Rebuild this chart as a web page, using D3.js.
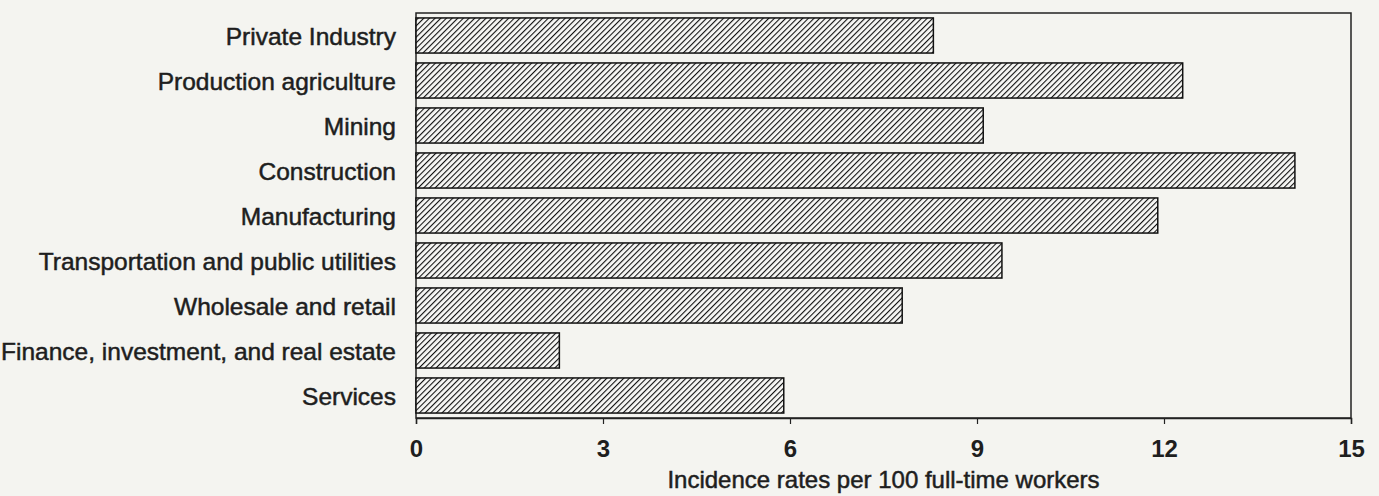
<!DOCTYPE html>
<html>
<head>
<meta charset="utf-8">
<script src="https://cdn.jsdelivr.net/npm/d3@7"></script>
<style>
  body { margin: 0; background: #f4f4f0; }
  svg { display: block; }
  text { font-family: "Liberation Sans", Arial, sans-serif; fill: #1e1e1e; }
</style>
</head>
<body>
<script>
const categories = [
    "Private Industry",
    "Production agriculture",
    "Mining",
    "Construction",
    "Manufacturing",
    "Transportation and public utilities",
    "Wholesale and retail",
    "Finance, investment, and real estate",
    "Services"
];
const rates = [8.3, 12.3, 9.1, 14.1, 11.9, 9.4, 7.8, 2.3, 5.9];
const tickValues = [0, 3, 6, 9, 12, 15];
const axisTitle = "Incidence rates per 100 full-time workers";

const width = 1379, height = 496;
const margin = {top: 13, right: 28, bottom: 78, left: 416};

const svg = d3.select("body").append("svg")
    .attr("width", width)
    .attr("height", height);

// hatch pattern ///
const defs = svg.append("defs");
const pat = defs.append("pattern")
    .attr("id", "hatch")
    .attr("patternUnits", "userSpaceOnUse")
    .attr("width", 4)
    .attr("height", 4)
    .attr("patternTransform", "rotate(45)");
pat.append("rect").attr("width", 4).attr("height", 4).attr("fill", "#f8f8f6");
pat.append("line")
    .attr("x1", 0).attr("y1", 0).attr("x2", 0).attr("y2", 4)
    .attr("stroke", "#111").attr("stroke-width", 2.2);

const x = d3.scaleLinear()
    .domain([0, 15])
    .range([margin.left, width - margin.right]);

const y = d3.scaleBand()
    .domain(categories)
    .range([margin.top, height - margin.bottom])
    .paddingInner(0.22)
    .paddingOuter(0.11);

// frame
svg.append("rect")
    .attr("x", x(0))
    .attr("y", margin.top)
    .attr("width", x(15) - x(0))
    .attr("height", height - margin.bottom - margin.top)
    .attr("fill", "none")
    .attr("stroke", "#222")
    .attr("stroke-width", 1.5);

// bars
svg.selectAll("rect.bar")
    .data(rates)
    .enter()
    .append("rect")
    .attr("class", "bar")
    .attr("x", x(0))
    .attr("y", (d, i) => y(categories[i]))
    .attr("width", d => x(d) - x(0))
    .attr("height", y.bandwidth())
    .attr("fill", "url(#hatch)")
    .attr("stroke", "#111")
    .attr("stroke-width", 1.5);

// x axis
const xAxis = svg.append("g")
    .attr("transform", `translate(0,${height - margin.bottom})`)
    .call(d3.axisBottom(x).tickValues(tickValues).tickSize(6).tickPadding(16));
xAxis.select(".domain").attr("stroke", "#222").attr("stroke-width", 1.5);
xAxis.selectAll(".tick line").attr("stroke", "#222").attr("stroke-width", 1.2);
xAxis.selectAll(".tick text")
    .style("font-family", "'Liberation Sans', Arial, sans-serif")
    .style("font-size", "24px")
    .style("font-weight", "bold")
    .attr("fill", "#1e1e1e");

// category labels
svg.selectAll("text.cat")
    .data(categories)
    .enter()
    .append("text")
    .attr("class", "cat")
    .attr("x", margin.left - 20)
    .attr("y", d => y(d) + y.bandwidth() / 2)
    .attr("dy", "0.38em")
    .attr("text-anchor", "end")
    .style("font-size", "24.5px")
    .style("stroke", "#1e1e1e")
    .style("stroke-width", 0.5)
    .text(d => d);

// axis title
svg.append("text")
    .attr("x", (x(0) + x(15)) / 2)
    .attr("y", 488)
    .attr("text-anchor", "middle")
    .style("font-size", "24px")
    .style("stroke", "#1e1e1e")
    .style("stroke-width", 0.5)
    .text(axisTitle);
</script>
</body>
</html>
